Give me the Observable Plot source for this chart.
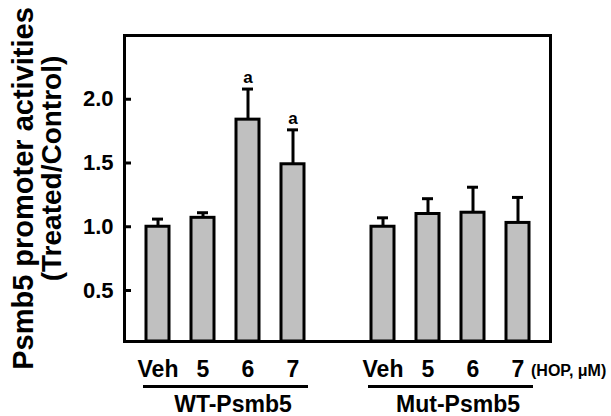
<!DOCTYPE html>
<html>
<head>
<meta charset="utf-8">
<script src="https://cdn.jsdelivr.net/npm/d3@7"></script>
<script src="https://cdn.jsdelivr.net/npm/@observablehq/plot@0.6"></script>
<style>
  html, body { margin: 0; padding: 0; background: white; }
</style>
</head>
<body>
<div id="chart"></div>
<script>
const doses = ["Veh", "5", "6", "7"];
const groups = ["WT-Psmb5", "Mut-Psmb5"];
const wtMean = [1.00, 1.07, 1.84, 1.49];
const wtErr = [0.06, 0.04, 0.24, 0.27];
const wtSig = ["", "", "a", "a"];
const mutMean = [1.00, 1.10, 1.11, 1.03];
const mutErr = [0.07, 0.12, 0.20, 0.20];
const mutSig = ["", "", "", ""];
const yTicks = [0.5, 1.0, 1.5, 2.0];
const yDomain = [0.1, 2.5];
const unitNote = "(HOP, \u03BCM)";
const yTitle1 = "Psmb5 promoter activities";
const yTitle2 = "(Treated/Control)";

const means = [wtMean, mutMean];
const errs = [wtErr, mutErr];
const sigs = [wtSig, mutSig];

const rows = [];
groups.forEach((g, gi) => {
  doses.forEach((d, di) => {
    rows.push({key: g + "|" + d, group: g, dose: d, mean: means[gi][di], err: errs[gi][di], sig: sigs[gi][di]});
  });
});
const gapKey = "gap";
const xDomain = [...rows.filter(r => r.group === groups[0]).map(r => r.key), gapKey,
                 ...rows.filter(r => r.group === groups[1]).map(r => r.key)];
const groupRows = groups.map(g => ({
  group: g,
  first: g + "|" + doses[0],
  last: g + "|" + doses[doses.length - 1],
  mid: g + "|" + doses[2]
}));
const lastKey = groups[1] + "|" + doses[doses.length - 1];

const font = "'Liberation Sans', Arial, Helvetica, sans-serif";

const chart = Plot.plot({
  width: 611,
  height: 416,
  marginLeft: 124,
  marginRight: 61,
  marginTop: 35,
  marginBottom: 75,
  style: {fontFamily: font, fontWeight: "bold", background: "white", color: "black", overflow: "visible"},
  x: {type: "band", domain: xDomain, paddingInner: 0.5, paddingOuter: 0.457, axis: null},
  y: {domain: yDomain, axis: null},
  marks: [
    Plot.barY(rows, {x: "key", y1: yDomain[0], y2: "mean", fill: "#c0c0c0", stroke: "black", strokeWidth: 3}),
    Plot.ruleX(rows, {x: "key", y1: "mean", y2: d => d.mean + d.err, stroke: "black", strokeWidth: 3}),
    Plot.tickY(rows, {x: "key", y: d => d.mean + d.err, stroke: "black", strokeWidth: 3, insetLeft: 6, insetRight: 6}),
    Plot.text(rows, {x: "key", y: d => d.mean + d.err, text: "sig", lineAnchor: "bottom", dy: -6, fontSize: 17, fontWeight: "bold"}),
    Plot.frame({stroke: "black", strokeWidth: 3}),
    Plot.axisY({ticks: yTicks, tickFormat: d3.format(".1f"), label: null, tickSize: -7, tickPadding: 18, fontSize: 22, strokeWidth: 3, fontWeight: "bold"}),
    Plot.text(rows, {x: "key", text: "dose", frameAnchor: "bottom", lineAnchor: "top", dy: 19, fontSize: 23, fontWeight: "bold"}),
    Plot.text([unitNote], {x: () => lastKey, text: d => d, frameAnchor: "bottom", lineAnchor: "top", textAnchor: "start", dx: 13, dy: 23, fontSize: 16, fontWeight: "bold"}),
    Plot.ruleY(groupRows, {x1: "first", x2: "last", y: () => yDomain[0], dy: 45, insetLeft: -3, insetRight: -4, stroke: "black", strokeWidth: 3}),
    Plot.text(groupRows, {x: "mid", text: "group", frameAnchor: "bottom", lineAnchor: "top", dy: 54, dx: -15, fontSize: 23, fontWeight: "bold"}),
    Plot.text([yTitle1], {text: d => d, frameAnchor: "left", textAnchor: "middle", rotate: -90, dx: -101, fontSize: 29, fontWeight: "bold"}),
    Plot.text([yTitle2], {text: d => d, frameAnchor: "left", textAnchor: "middle", rotate: -90, dx: -72, dy: -20, fontSize: 28, fontWeight: "bold"})
  ]
});
document.getElementById("chart").appendChild(chart);
</script>
</body>
</html>
